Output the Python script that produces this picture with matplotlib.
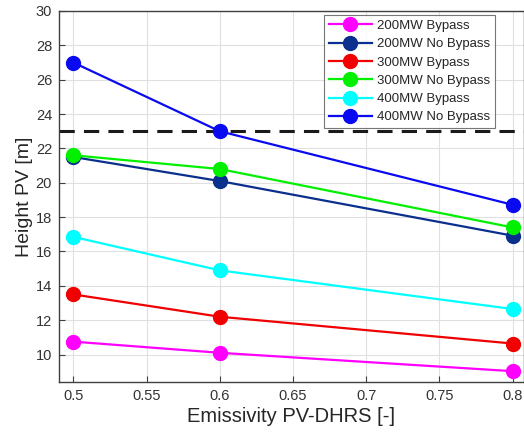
import matplotlib
matplotlib.use("Agg")
import matplotlib.pyplot as plt

plt.rcParams['font.family'] = ['Liberation Sans', 'DejaVu Sans']

emissivity = [0.5, 0.6, 0.8]
series_names = ["200MW Bypass", "200MW No Bypass", "300MW Bypass",
                "300MW No Bypass", "400MW Bypass", "400MW No Bypass"]
h_200_bypass = [10.75, 10.1, 9.03]
h_200_nobypass = [21.5, 20.1, 16.92]
h_300_bypass = [13.5, 12.2, 10.64]
h_300_nobypass = [21.6, 20.8, 17.4]
h_400_bypass = [16.85, 14.9, 12.65]
h_400_nobypass = [27.0, 23.0, 18.72]
limit_height = 23.0

colors = ["#FF00FF", "#0A2F8C", "#F00000", "#00F000", "#00FFFF", "#0A0AF0"]
values = [h_200_bypass, h_200_nobypass, h_300_bypass,
          h_300_nobypass, h_400_bypass, h_400_nobypass]

fig = plt.figure(figsize=(5.24, 4.36), dpi=100)
left, right, bottom, top = 59 / 524, 523.5 / 524, 1 - 382 / 436, 1 - 11 / 436
ax = fig.add_axes([left, bottom, right - left, top - bottom])

for name, vals, c in zip(series_names, values, colors):
    ax.plot(emissivity, vals, '-o', color=c, lw=1.6, ms=10, label=name, zorder=3)

ax.axhline(limit_height, color='#1a1a1a', ls=(0, (5, 3)), lw=2.2, zorder=2)

ax.set_xlim(0.4902, 0.8075)
ax.set_ylim(8.4, 30)
ax.set_xticks([0.5, 0.55, 0.6, 0.65, 0.7, 0.75, 0.8])
ax.set_xticklabels(["0.5", "0.55", "0.6", "0.65", "0.7", "0.75", "0.8"])
ax.set_yticks(range(10, 31, 2))
ax.grid(True, color='#e0e0e0', lw=0.8)
ax.set_axisbelow(True)
ax.tick_params(direction='in', length=4, labelsize=10.5, colors='#404040',
               labelcolor='#333333', pad=5)
for s in ax.spines.values():
    s.set_color('#404040')
    s.set_linewidth(1.0)

ax.set_xlabel("Emissivity PV-DHRS [-]", fontsize=14.5, color='#262626', labelpad=3)
ax.set_ylabel("Height PV [m]", fontsize=14, color='#262626', labelpad=2)

leg = ax.legend(loc='upper right', bbox_to_anchor=(0.9376, 0.989), fontsize=9.5,
                frameon=True, fancybox=False, edgecolor='#555555',
                borderpad=0.35, labelspacing=0.46, handlelength=3.3,
                handletextpad=0.35, borderaxespad=0.0)
leg.get_frame().set_linewidth(0.8)
for t in leg.get_texts():
    t.set_color('#262626')

fig.savefig("out.png", dpi=100)
